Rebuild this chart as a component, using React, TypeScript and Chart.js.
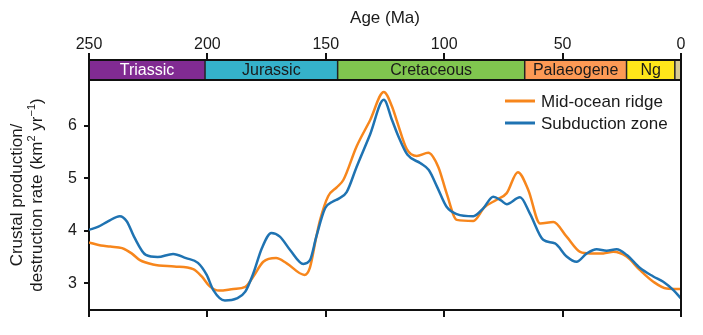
import React, { useEffect, useRef } from 'react';
import { Chart, registerables } from 'chart.js';

Chart.register(...registerables);

const FONT = "'Liberation Sans', Arial, Helvetica, sans-serif";

// Axis ticks
const ageTicks = [250, 200, 150, 100, 50, 0];
const valueTicks = [3, 4, 5, 6];

// Geological periods (Ma)
const periodNames = ['Triassic', 'Jurassic', 'Cretaceous', 'Palaeogene', 'Ng', ''];
const periodStart = [250, 201, 145, 66, 23, 2.6];
const periodEnd = [201, 145, 66, 23, 2.6, 0];
const periodColors = ['#812B92', '#35B2CA', '#80C64F', '#FD9A55', '#FFE61A', '#D6CA92'];
const periodTextColors = ['#ffffff', '#1a1a1a', '#1a1a1a', '#1a1a1a', '#1a1a1a', '#1a1a1a'];

// Series labels
const seriesNames = ['Mid-ocean ridge', 'Subduction zone'];
const seriesColors = ['#F7861C', '#1F73B2'];

// Mid-ocean ridge production rate (km^2/yr) vs age (Ma)
const ridgeAges = [250, 245, 241, 236, 232, 228.5, 223, 214, 206, 202.4, 199, 195, 189, 184, 180.6, 176.4, 171, 166.5, 159, 156.7, 154, 152.4, 149, 145.4, 142.6, 137, 131.3, 125.5, 122, 120, 115.8, 111.6, 106.7, 102.5, 99, 94.7, 87.7, 83, 78, 73.6, 68.9, 64.5, 59.5, 53.9, 48.3, 42.6, 38.4, 32.8, 28.6, 23, 17.3, 11.7, 6.1, 0];
const ridgeRates = [3.78, 3.72, 3.70, 3.67, 3.57, 3.44, 3.36, 3.32, 3.27, 3.13, 2.94, 2.86, 2.89, 2.93, 3.13, 3.41, 3.48, 3.38, 3.16, 3.30, 3.89, 4.21, 4.66, 4.83, 4.97, 5.61, 6.11, 6.65, 6.37, 6.10, 5.56, 5.43, 5.49, 5.22, 4.72, 4.21, 4.19, 4.45, 4.59, 4.72, 5.12, 4.78, 4.14, 4.17, 3.89, 3.60, 3.57, 3.57, 3.60, 3.51, 3.25, 3.03, 2.90, 2.89];

// Subduction zone destruction rate (km^2/yr) vs age (Ma)
const subductionAges = [250, 246, 242, 237, 234, 231, 226, 221, 214.5, 209, 204, 200.3, 197.5, 192.6, 187.6, 184, 180.6, 177, 173, 169.4, 165, 159.5, 156.7, 154, 150.3, 147, 144.7, 141.2, 137, 131.3, 125.5, 122, 119.5, 115.5, 110, 106.5, 103, 99, 94.7, 87.7, 83.5, 79.3, 76, 73.6, 68, 63.8, 58.2, 53.2, 48.3, 44.1, 39.8, 35.6, 31.4, 27.2, 22.9, 17.3, 11.7, 7.5, 3.2, 0];
const subductionRates = [4.02, 4.08, 4.18, 4.28, 4.18, 3.89, 3.54, 3.50, 3.56, 3.48, 3.39, 3.16, 2.87, 2.67, 2.71, 2.84, 3.19, 3.67, 3.96, 3.89, 3.63, 3.37, 3.44, 3.89, 4.43, 4.56, 4.61, 4.74, 5.22, 5.84, 6.50, 6.11, 5.82, 5.45, 5.29, 5.16, 4.84, 4.46, 4.32, 4.28, 4.43, 4.65, 4.58, 4.51, 4.64, 4.33, 3.83, 3.76, 3.51, 3.41, 3.57, 3.65, 3.62, 3.65, 3.54, 3.29, 3.13, 3.03, 2.87, 2.71];

const toPoints = (xs: number[], ys: number[]) => xs.map((x, i) => ({ x, y: ys[i] }));

const decorPlugin = {
  id: 'decor',
  afterDraw(chart: any) {
    const { ctx, chartArea, scales } = chart;
    const xs = scales.x;
    const top = chartArea.top;
    const barH = 20;
    ctx.save();
    // period bar
    for (let i = 0; i < periodNames.length; i++) {
      const x0 = xs.getPixelForValue(periodStart[i]);
      const x1 = xs.getPixelForValue(periodEnd[i]);
      ctx.fillStyle = periodColors[i];
      ctx.fillRect(x0, top, x1 - x0, barH);
      if (i > 0) {
        ctx.strokeStyle = '#222';
        ctx.lineWidth = 1.5;
        ctx.beginPath();
        ctx.moveTo(x0, top);
        ctx.lineTo(x0, top + barH);
        ctx.stroke();
      }
      if (periodNames[i]) {
        ctx.fillStyle = periodTextColors[i];
        ctx.font = `16px ${FONT}`;
        ctx.textAlign = 'center';
        ctx.textBaseline = 'middle';
        ctx.fillText(periodNames[i], (x0 + x1) / 2, top + barH / 2 + 1);
      }
    }
    ctx.strokeStyle = '#111';
    ctx.lineWidth = 2;
    ctx.strokeRect(chartArea.left, top, chartArea.right - chartArea.left, barH);
    // right frame
    ctx.beginPath();
    ctx.moveTo(chartArea.right, top);
    ctx.lineTo(chartArea.right, chartArea.bottom);
    ctx.stroke();

    // legend
    const lx0 = chartArea.right - 176;
    const lx1 = chartArea.right - 146;
    const ly = [top + 41, top + 63];
    for (let i = 0; i < seriesNames.length; i++) {
      ctx.strokeStyle = seriesColors[i];
      ctx.lineWidth = 3;
      ctx.beginPath();
      ctx.moveTo(lx0, ly[i]);
      ctx.lineTo(lx1, ly[i]);
      ctx.stroke();
      ctx.fillStyle = '#1a1a1a';
      ctx.font = `17px ${FONT}`;
      ctx.textAlign = 'left';
      ctx.textBaseline = 'middle';
      ctx.fillText(seriesNames[i], lx1 + 6, ly[i] + 1);
    }

    // y axis title (two rotated lines with superscripts)
    const cy = 195;
    ctx.fillStyle = '#1a1a1a';
    ctx.textBaseline = 'middle';
    ctx.translate(0, 0);
    // line 1
    ctx.save();
    ctx.translate(17, cy);
    ctx.rotate(-Math.PI / 2);
    ctx.font = `17px ${FONT}`;
    ctx.textAlign = 'center';
    ctx.fillText('Crustal production/', 0, 0);
    ctx.restore();
    // line 2 with superscripts
    ctx.save();
    ctx.translate(37, cy);
    ctx.rotate(-Math.PI / 2);
    const segs: [string, boolean][] = [['destruction rate (km', false], ['2', true], [' yr', false], ['\u22121', true], [')', false]];
    const big = `17px ${FONT}`;
    const small = `11px ${FONT}`;
    let total = 0;
    for (const [t, sup] of segs) {
      ctx.font = sup ? small : big;
      total += ctx.measureText(t).width;
    }
    let px = -total / 2;
    ctx.textAlign = 'left';
    for (const [t, sup] of segs) {
      ctx.font = sup ? small : big;
      ctx.fillText(t, px, sup ? -5 : 0);
      px += ctx.measureText(t).width;
    }
    ctx.restore();
    ctx.restore();
  },
};

export default function App() {
  const ref = useRef<HTMLCanvasElement | null>(null);
  useEffect(() => {
    if (!ref.current) return;
    const axisColor = '#111';
    const chart = new Chart(ref.current, {
      type: 'line',
      data: {
        datasets: [
          {
            label: seriesNames[0],
            data: toPoints(ridgeAges, ridgeRates),
            borderColor: seriesColors[0],
            backgroundColor: seriesColors[0],
            borderWidth: 2.5,
            pointRadius: 0,
            cubicInterpolationMode: 'monotone',
            order: 1,
            xAxisID: 'x',
            yAxisID: 'y',
          },
          {
            label: seriesNames[1],
            data: toPoints(subductionAges, subductionRates),
            borderColor: seriesColors[1],
            backgroundColor: seriesColors[1],
            borderWidth: 2.5,
            pointRadius: 0,
            cubicInterpolationMode: 'monotone',
            order: 0,
            xAxisID: 'x',
            yAxisID: 'y',
          },
        ],
      },
      options: {
        responsive: false,
        animation: false,
        events: [],
        layout: { padding: { left: 0, right: 22, top: 0, bottom: 0 } },
        plugins: { legend: { display: false }, tooltip: { enabled: false } },
        scales: {
          x: {
            type: 'linear',
            position: 'top',
            reverse: true,
            min: 0,
            max: 250,
            afterBuildTicks: (s: any) => {
              s.ticks = ageTicks.map((v) => ({ value: v }));
            },
            ticks: {
              color: '#1a1a1a',
              font: { size: 16, family: FONT },
              padding: -1,
              maxRotation: 0,
              autoSkip: false,
            },
            grid: { drawOnChartArea: false, drawTicks: true, tickLength: 7, color: axisColor, lineWidth: 2 },
            border: { display: true, color: axisColor, width: 2 },
            title: {
              display: true,
              text: 'Age (Ma)',
              color: '#1a1a1a',
              font: { size: 17, family: FONT },
              padding: { top: 8, bottom: 0 },
            },
            afterFit: (s: any) => {
              s.height = 60;
            },
          },
          x2: {
            type: 'linear',
            position: 'bottom',
            reverse: true,
            min: 0,
            max: 250,
            afterBuildTicks: (s: any) => {
              s.ticks = ageTicks.map((v) => ({ value: v }));
            },
            ticks: { display: false },
            grid: { drawOnChartArea: false, drawTicks: true, tickLength: 7, color: axisColor, lineWidth: 2 },
            border: { display: true, color: axisColor, width: 2 },
            afterFit: (s: any) => {
              s.height = 25;
            },
          },
          y: {
            type: 'linear',
            position: 'left',
            min: 2.49,
            max: 7.26,
            afterBuildTicks: (s: any) => {
              s.ticks = valueTicks.map((v) => ({ value: v }));
            },
            ticks: {
              color: '#1a1a1a',
              font: { size: 16, family: FONT },
              padding: 7,
            },
            grid: { drawOnChartArea: false, drawTicks: true, tickLength: 5, color: axisColor, lineWidth: 2 },
            border: { display: true, color: axisColor, width: 2 },
            afterFit: (s: any) => {
              s.width = 89;
            },
          },
        },
      } as any,
      plugins: [decorPlugin],
    });
    return () => chart.destroy();
  }, []);
  return (
    <div style={{ position: 'fixed', left: 0, top: 0, width: 703, height: 335, background: '#fff' }}>
      <canvas ref={ref} width={703} height={335} style={{ display: 'block', width: 703, height: 335 }} />
    </div>
  );
}
